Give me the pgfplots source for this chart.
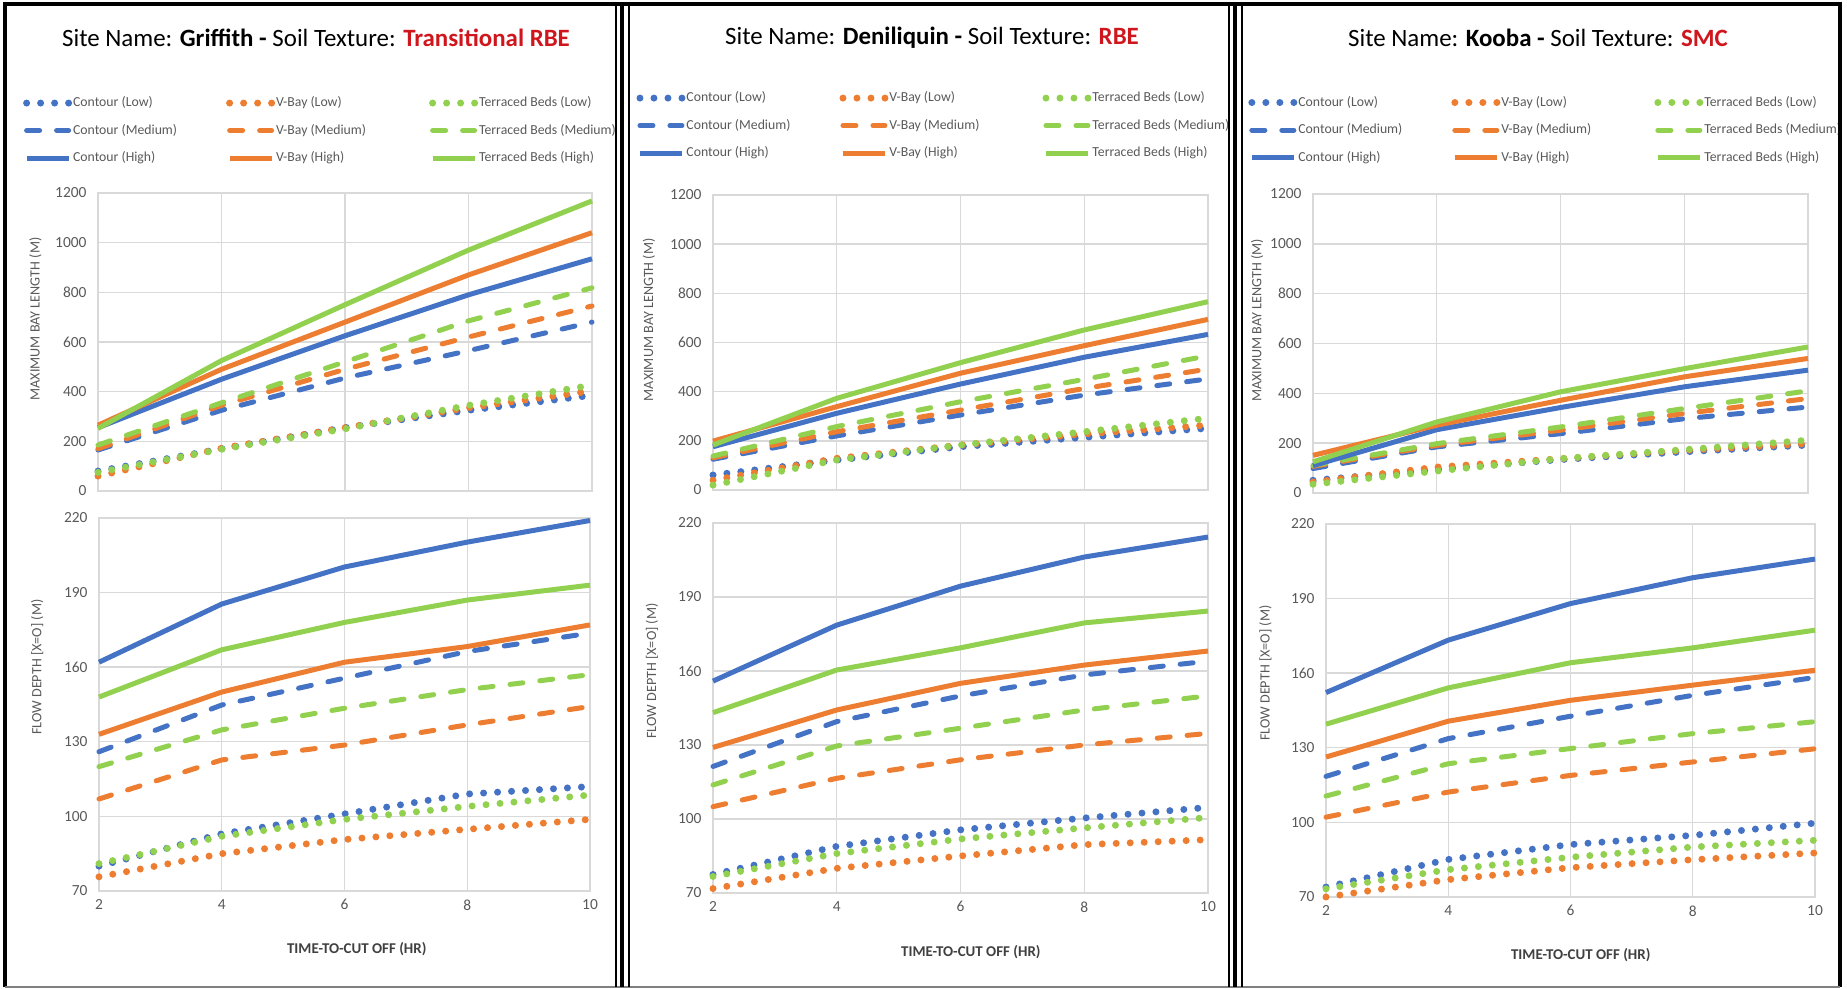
\documentclass[border=0pt]{standalone}
\usepackage{pgfplots}
\pgfplotsset{compat=1.18}
\usepackage{pgfplotstable}
\usepackage{fontspec}
\setmainfont{Carlito}
\definecolor{cblue}{HTML}{4472C4}
\definecolor{corange}{HTML}{ED7D31}
\definecolor{cgreen}{HTML}{92D050}
\definecolor{tickgray}{HTML}{595959}
\definecolor{xlab}{HTML}{404040}
\definecolor{gridgray}{HTML}{D9D9D9}
\definecolor{titlered}{HTML}{D0161D}

% Griffith
\pgfplotstableread{
x cl vl tl cm vm tm ch vh th
2 80 60 75 165 170 185 255 265 252
4 170 172 168 325 345 355 450 490 525
6 255 255 250 455 490 520 625 680 750
8 325 335 345 565 620 685 790 870 970
10 385 403 426 680 745 818 935 1040 1168
}\tAtop
\pgfplotstableread{
x cl vl tl cm vm tm ch vh th
2 80 75.7 81 126 107 120 162 133 148
4 93 85 92 144.8 122.7 134.8 185.4 150 167
6 101 90.7 98.8 155.6 128.7 143.5 200.3 162 178
8 109 94.8 104 166.3 136.8 151 210.3 168.3 187
10 112 98.8 108.6 173.7 144.2 157 219 177 193
}\tAbot
% Deniliquin
\pgfplotstableread{
x cl vl tl cm vm tm ch vh th
2 61 40 20 125 131 138 176 199 183
4 122 129 122 220 237 258 312 339 373
6 176 183 183 305 325 359 431 475 518
8 214 228 237 386 413 450 540 587 651
10 251 264 292 452 492 546 633 694 766
}\tBtop
\pgfplotstableread{
x cl vl tl cm vm tm ch vh th
2 77.5 71.8 76.7 121.3 105 113.8 155.9 129 143.1
4 88.9 80 86 139.5 116.5 129.6 178.6 144.2 160.4
6 95.6 85 91.9 149.9 124 136.8 194.4 155 169.4
8 100.4 89.6 96.4 158.4 130 144.2 206.2 162.4 179.5
10 104.7 91.6 100.6 164 134.7 149.9 214.3 168.1 184.3
}\tBbot
% Kooba
\pgfplotstableread{
x cl vl tl cm vm tm ch vh th
2 51 44 35 98 107 111 110 151 125
4 94 104 88 185 191 198 254 272 285
6 134 138 138 238 252 265 343 372 406
8 165 171 174 298 319 339 426 466 499
10 192 198 212 345 379 410 493 540 586
}\tCtop
\pgfplotstableread{
x cl vl tl cm vm tm ch vh th
2 74 70 73.3 118.5 102.1 110.6 152.2 126.3 139.5
4 85.1 77 81 133.7 112.2 123.6 173.3 140.7 154.1
6 91.1 81.8 86 142.7 118.9 129.7 188 149.1 164.2
8 94.8 85 90.1 151.1 124.3 135.7 198.4 155.2 170.2
10 99.7 87.7 92.8 158.3 129.6 140.5 205.9 161.2 177.3
}\tCbot

\newcommand{\legbox}[1]{\makebox[152bp][l]{#1}}

\pgfplotsset{
  base/.style={scale only axis, xmin=2, xmax=10, xtick={2,4,6,8,10},
    grid=major, major grid style={gridgray, line width=1.4bp},
    axis line style={gridgray, line width=1.4bp},
    tick style={draw=none},
    ticklabel style={font=\fontsize{15.5}{17}\selectfont, text=tickgray},
    yticklabel style={xshift=-8bp},
    xticklabel style={yshift=-5bp},
    /pgf/number format/assume math mode=true,
    /pgf/number format/1000 sep={},
    clip=false,
    ylabel style={font=\fontsize{14.2}{16}\selectfont, text=tickgray, anchor=south},
  },
  topax/.style={base, ymin=0, ymax=1200, ytick={0,200,...,1200}, xticklabels={},
    ylabel={MAXIMUM BAY LENGTH (M)},
    legend columns=3,
    legend cell align=left,
    legend style={draw=none, fill=none, anchor=north west,
      font=\fontsize{13.8}{16}\selectfont, text=tickgray,
      column sep=0bp, row sep=10.5bp, inner sep=0bp,
      nodes={inner sep=1bp, text height=11bp, text depth=4bp}},
    legend image code/.code={\draw[##1] (0bp,0bp) -- (42bp,0bp);},
    legend entries={\legbox{Contour (Low)},\legbox{V-Bay (Low)},Terraced Beds (Low),
      \legbox{Contour (Medium)},\legbox{V-Bay (Medium)},Terraced Beds (Medium),
      \legbox{Contour (High)},\legbox{V-Bay (High)},Terraced Beds (High)},
  },
  botax/.style={base, ymin=70, ymax=220, ytick={70,100,...,220},
    ylabel={FLOW DEPTH [X=O] (M)},
    xlabel={TIME-TO-CUT OFF (HR)},
    xlabel style={font=\bfseries\fontsize{15}{17}\selectfont, text=xlab, anchor=center},
  },
  lo/.style={line width=7bp, line cap=round, dash pattern=on 0bp off 14bp},
  me/.style={line width=5bp, line cap=round, dash pattern=on 13bp off 17bp},
  hi/.style={line width=5bp, line join=round},
}

\newcommand{\allplots}[1]{%
  \addplot[cblue, lo] table[x=x, y=cl] {#1};
  \addplot[corange, lo] table[x=x, y=vl] {#1};
  \addplot[cgreen, lo] table[x=x, y=tl] {#1};
  \addplot[cblue, me] table[x=x, y=cm] {#1};
  \addplot[corange, me] table[x=x, y=vm] {#1};
  \addplot[cgreen, me] table[x=x, y=tm] {#1};
  \addplot[cblue, hi] table[x=x, y=ch] {#1};
  \addplot[corange, hi] table[x=x, y=vh] {#1};
  \addplot[cgreen, hi] table[x=x, y=th] {#1};
}

\begin{document}
\begin{tikzpicture}
\useasboundingbox (0bp,0bp) rectangle (1847bp,989bp);

% ---------- Panel 1: Griffith ----------
\node[font=\fontsize{25}{29}\selectfont] at (316bp,951bp)
  {Site Name: \textbf{Griffith -} Soil Texture: \textcolor{titlered}{\textbf{Transitional RBE}}};
\begin{axis}[topax, at={(98bp,498bp)}, anchor=south west, width=494bp, height=298bp,
  ylabel style={at={(axis description cs:-0.107,0.577)}},
  legend style={at={(axis description cs:-0.152,1.331)}}]
\allplots{\tAtop}
\end{axis}
\begin{axis}[botax, at={(99bp,98bp)}, anchor=south west, width=491bp, height=373bp,
  ylabel style={at={(axis description cs:-0.106,0.60)}},
  xlabel style={at={(axis description cs:0.525,-0.155)}}]
\allplots{\tAbot}
\end{axis}

% ---------- Panel 2: Deniliquin ----------
\node[font=\fontsize{25}{29}\selectfont] at (932bp,951bp)
  {Site Name: \textbf{Deniliquin -} Soil Texture: \textcolor{titlered}{\textbf{RBE}}};
\begin{axis}[topax, at={(713bp,499bp)}, anchor=south west, width=495bp, height=295bp,
  ylabel style={at={(axis description cs:-0.110,0.577)}},
  legend style={at={(axis description cs:-0.155,1.358)}}]
\allplots{\tBtop}
\end{axis}
\begin{axis}[botax, at={(713bp,96bp)}, anchor=south west, width=495bp, height=370bp,
  ylabel style={at={(axis description cs:-0.104,0.60)}},
  xlabel style={at={(axis description cs:0.521,-0.16)}}]
\allplots{\tBbot}
\end{axis}

% ---------- Panel 3: Kooba ----------
\node[font=\fontsize{25}{29}\selectfont] at (1538bp,951bp)
  {Site Name: \textbf{Kooba -} Soil Texture: \textcolor{titlered}{\textbf{SMC}}};
\begin{axis}[topax, at={(1313bp,496bp)}, anchor=south west, width=495bp, height=299bp,
  ylabel style={at={(axis description cs:-0.093,0.577)}},
  legend style={at={(axis description cs:-0.131,1.335)}}]
\allplots{\tCtop}
\end{axis}
\begin{axis}[botax, at={(1326bp,92bp)}, anchor=south west, width=489bp, height=373bp,
  ylabel style={at={(axis description cs:-0.104,0.60)}},
  xlabel style={at={(axis description cs:0.521,-0.155)}}]
\allplots{\tCbot}
\end{axis}

% ---------- frames ----------
\draw[line width=3.5bp] (5bp,2bp) -- (5bp,985bp) -- (1840bp,985bp) -- (1840bp,2bp);
\draw[gray, line width=1.5bp] (5bp,2bp) -- (1840bp,2bp);
\draw[line width=1.5bp] (616bp,2bp) -- (616bp,985bp);
\draw[line width=3.5bp] (622bp,2bp) -- (622bp,985bp);
\draw[line width=1.5bp] (629bp,2bp) -- (629bp,985bp);
\draw[line width=1.5bp] (1229bp,2bp) -- (1229bp,985bp);
\draw[line width=3.5bp] (1235bp,2bp) -- (1235bp,985bp);
\draw[line width=1.5bp] (1242bp,2bp) -- (1242bp,985bp);
\end{tikzpicture}
\end{document}
